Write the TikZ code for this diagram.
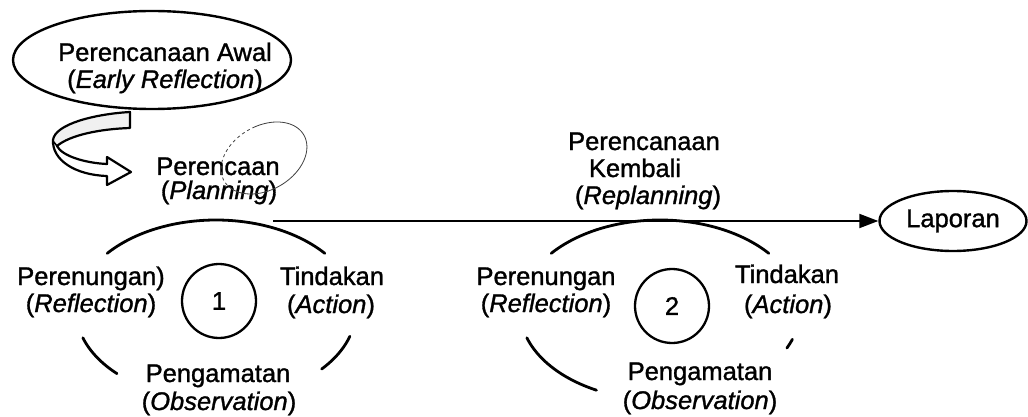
\documentclass[tikz,border=0pt]{standalone}
\usepackage{fontspec}
\setmainfont{Liberation Sans}[FakeBold=1.2]
\usetikzlibrary{arrows.meta,shapes.geometric}
\begin{document}
\begin{tikzpicture}[x=1pt,y=-1pt,
  lbl/.style={anchor=base,inner sep=0pt,font=\fontsize{25.5}{28}\selectfont},
  oval/.style={draw,ellipse,line width=2.4pt,inner sep=0pt,font=\fontsize{25.5}{28}\selectfont},
  numcirc/.style={draw,circle,line width=2.3pt,minimum size=74pt,inner sep=0pt,font=\fontsize{25.5}{28}\selectfont},
  arcline/.style={line width=2.8pt,line cap=round},
  sketch/.style={line width=0.8pt,black!75}]
\useasboundingbox (0,0) rectangle (1028,417);

% top ellipse
\node[oval,minimum width=278pt,minimum height=98pt] (awal) at (152,60) {};
\node[lbl] (awal1) at (165,61) {Perencanaan Awal};
\node[lbl] (awal2) at (165,88) {(\textit{Early Reflection})};

% ribbon arrow
\fill[gray!12] (130,113) .. controls (95,115) and (56,125) .. (54,141) -- (57,146) .. controls (70,135) and (100,129) .. (130,127) -- cycle;
\draw[line width=2.2pt,line join=round] (130,112) .. controls (95,114) and (55,124) .. (53,140) .. controls (52,160) and (75,175) .. (107,176) -- (107,185) -- (131,172) -- (107,157) -- (107,164) .. controls (85,163) and (62,156) .. (57,146) .. controls (70,135) and (100,129) .. (130,128) -- cycle;
\draw[line width=1.6pt] (53,141) -- (57,146);

% planning text
\node[lbl] (plan1) at (218,175) {Perencaan};
\node[lbl] (plan2) at (219,199) {(\textit{Planning})};

% sketch ellipse
\draw[sketch] plot[domain=-160:80,samples=60,smooth] ({264+46*cos(\x)*cos(30)-32*sin(\x)*sin(30)},{158-(46*cos(\x)*sin(30)+32*sin(\x)*cos(30))});
\draw[sketch,dash pattern=on 3pt off 3pt] plot[domain=80:200,samples=40,smooth] ({264+46*cos(\x)*cos(30)-32*sin(\x)*sin(30)},{158-(46*cos(\x)*sin(30)+32*sin(\x)*cos(30))});

% main line and Laporan
\node[oval,minimum width=147pt,minimum height=60pt] (lap) at (953,221) {Laporan};
\coordinate (lstart) at (273,221);
\draw[line width=2pt,-{Triangle[length=19pt,width=14pt]}] (lstart) -- (lap.west);

% replanning text
\node[lbl] (rp1) at (644,150) {Perencanaan};
\node[lbl] (rp2) at (635,177) {Kembali};
\node[lbl] (rp3) at (648,204) {(\textit{Replanning})};

% cycle 1
\draw[arcline] plot[domain=39:141,samples=50,smooth] ({216+140*cos(\x)},{310-90*sin(\x)});
\draw[arcline] plot[domain=198:225,samples=20,smooth] ({216+140*cos(\x)},{310-90*sin(\x)});
\draw[arcline] plot[domain=-41:-17,samples=20,smooth] ({216+140*cos(\x)},{310-90*sin(\x)});
\node[numcirc] (c1) at (219,301) {1};
\node[lbl] (r1a) at (91,285) {Perenungan)};
\node[lbl] (r1b) at (91,312) {(\textit{Reflection})};
\node[lbl] (t1a) at (332,285) {Tindakan};
\node[lbl] (t1b) at (331,313) {(\textit{Action})};
\node[lbl] (o1a) at (218,382) {Pengamatan};
\node[lbl] (o1b) at (219,410) {(\textit{Observation})};

% cycle 2
\draw[arcline] plot[domain=39:141,samples=50,smooth] ({660+140*cos(\x)},{310-90*sin(\x)});
\draw[arcline] plot[domain=198:243,samples=25,smooth] ({660+140*cos(\x)},{310-90*sin(\x)});
\draw[arcline] plot[domain=-25:-19,samples=8,smooth] ({660+140*cos(\x)},{310-90*sin(\x)});
\node[numcirc] (c2) at (672,306) {2};
\node[lbl] (r2a) at (546,285) {Perenungan};
\node[lbl] (r2b) at (546,312) {(\textit{Reflection})};
\node[lbl] (t2a) at (787,283) {Tindakan};
\node[lbl] (t2b) at (788,313) {(\textit{Action})};
\node[lbl] (o2a) at (700,380) {Pengamatan};
\node[lbl] (o2b) at (700,409) {(\textit{Observation})};
\end{tikzpicture}
\end{document}
